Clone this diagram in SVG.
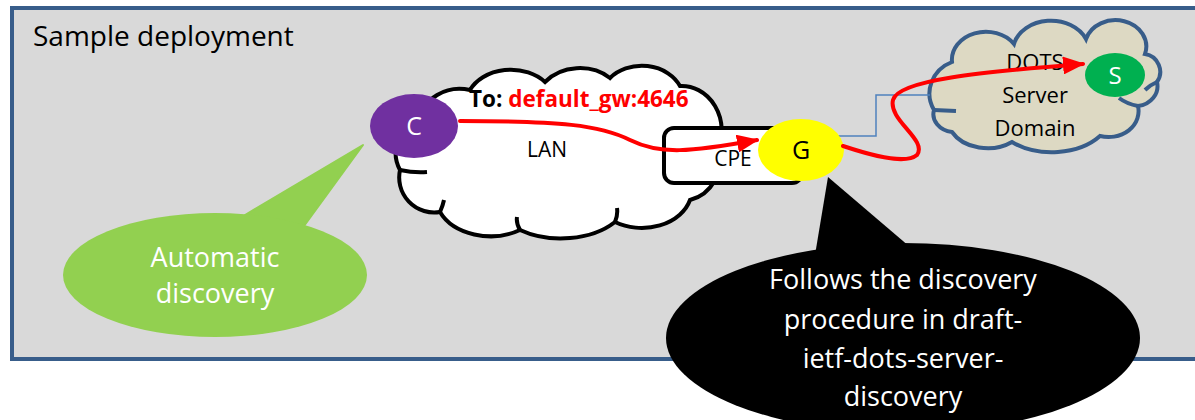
<svg xmlns="http://www.w3.org/2000/svg" width="1195" height="420" viewBox="0 0 1195 420">
<defs>
<style>
.t{font-family:"Open Sans","Liberation Sans",sans-serif;}
.w{fill:#ffffff;}
.k{fill:#000000;}
.red{fill:none;stroke:#ff0000;stroke-width:4;stroke-linecap:round;}
</style>
<marker id="ah" markerUnits="userSpaceOnUse" markerWidth="22" markerHeight="18" viewBox="0 0 22 18" refX="20" refY="9" orient="auto">
<path d="M0,0 L22,9 L0,18 Z" fill="#ff0000"/>
</marker>
</defs>
<rect x="0" y="0" width="1195" height="420" fill="#ffffff"/>
<g id="frame">
<rect x="12" y="8" width="1200" height="351" fill="#d9d9d9" stroke="#385d8a" stroke-width="4"/>
<text class="t k" x="33" y="46" font-size="28">Sample deployment</text>
</g>
<g id="lan">
<path d="M420,120 A40,35 0 0 1 470,90 A45,35 0 0 1 545,82 A45,38 0 0 1 610,78 A42,35 0 0 1 680,86 A40,45 0 0 1 718,150 A40,40 0 0 1 690,200 A50,38 0 0 1 615,222 A70,45 0 0 1 520,230 A55,40 0 0 1 440,212 A35,35 0 0 1 400,170 A35,35 0 0 1 420,120 Z" fill="#ffffff" stroke="#000000" stroke-width="4"/>
<path d="M400,170 Q414,173 427,172 M440,212 Q443,205 444,200 M520,230 Q516,223 517,217 M615,222 Q618,215 617,208" fill="none" stroke="#000000" stroke-width="4"/>
<text class="t k" x="547" y="157" font-size="21" text-anchor="middle">LAN</text>
</g>
<g id="cpe">
<rect x="664" y="128" width="138" height="55" rx="10" fill="#ffffff" stroke="#000000" stroke-width="4"/>
<text class="t k" x="733" y="166" font-size="21" text-anchor="middle">CPE</text>
</g>
<g id="dots">
<path d="M934,110 A36,34 0 0 1 952,62 A34,28 0 0 1 1014,44 A38,30 0 0 1 1086,39 A28,24 0 0 1 1145,54 A18,18 0 0 1 1157,82 A22,20 0 0 1 1138,106 A30,26 0 0 1 1100,136 A60,40 0 0 1 1012,142 A40,30 0 0 1 952,132 A22,18 0 0 1 934,110 Z" fill="#ddd9c3" stroke="#385d8a" stroke-width="4"/>
<path d="M934,110 L956,111 M1157,82 Q1150,85 1145,90 M1138,106 Q1127,104 1119,98" fill="none" stroke="#385d8a" stroke-width="4"/>
<text class="t k" x="1035" y="70" font-size="22" text-anchor="middle">DOTS</text>
<text class="t k" x="1035" y="103" font-size="22" text-anchor="middle">Server</text>
<text class="t k" x="1035" y="136" font-size="22" text-anchor="middle">Domain</text>
</g>
<g id="connectors">
<polyline points="826,136 876,136 876,95 930,95" fill="none" stroke="#4f81bd" stroke-width="1.5"/>
</g>
<g id="g-node">
<ellipse cx="801" cy="150" rx="43" ry="31" fill="#ffff00"/>
<text class="t k" x="801" y="159" font-size="25" text-anchor="middle">G</text>
</g>
<g id="c-node">
<ellipse cx="414" cy="126" rx="44" ry="32" fill="#7030a0"/>
<text class="t w" x="414" y="135" font-size="25" text-anchor="middle">C</text>
</g>
<g id="s-node">
<ellipse cx="1115" cy="75" rx="30" ry="22" fill="#00b050"/>
<text class="t w" x="1115" y="84" font-size="24" text-anchor="middle">S</text>
</g>
<g id="arrows">
<path class="red" d="M460,121 C560,121 600,125 630,140 C660,155 690,152 757,140" marker-end="url(#ah)"/>
<path class="red" d="M843,146 C870,155 905,165 917,155 C928,140 888,120 893,100 C898,80 980,72 1083,64" marker-end="url(#ah)"/>
</g>
<g id="label">
<text class="t" x="469" y="107" font-size="22.5" font-weight="bold"><tspan fill="#000000">To: </tspan><tspan fill="#ff0000">default_gw:4646</tspan></text>
</g>
<g id="callout-auto">
<polygon points="245,215 363,145 304,226" fill="#92d050" stroke="#92d050" stroke-width="2" stroke-linejoin="round"/>
<ellipse cx="215" cy="275" rx="152" ry="62" fill="#92d050"/>
<text class="t w" x="215" y="267" font-size="27" text-anchor="middle">Automatic</text>
<text class="t w" x="215" y="303" font-size="27" text-anchor="middle">discovery</text>
</g>
<g id="callout-discovery">
<polygon points="815,255 828,177 910,247" fill="#000000"/>
<ellipse cx="903" cy="338" rx="237" ry="95" fill="#000000"/>
<text class="t w" x="903" y="289" font-size="27" text-anchor="middle">Follows the discovery</text>
<text class="t w" x="903" y="329" font-size="27" text-anchor="middle">procedure in draft-</text>
<text class="t w" x="903" y="368" font-size="27" text-anchor="middle">ietf-dots-server-</text>
<text class="t w" x="903" y="406" font-size="27" text-anchor="middle">discovery</text>
</g>
</svg>
